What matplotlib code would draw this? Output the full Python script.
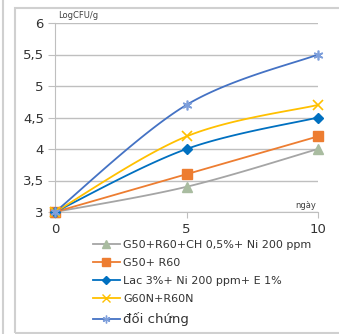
import numpy as np
import matplotlib
matplotlib.use("Agg")
import matplotlib.pyplot as plt
from matplotlib.lines import Line2D
from matplotlib.patches import Rectangle
from matplotlib.ticker import FuncFormatter

days = [0, 5, 10]
labels = ["G50+R60+CH 0,5%+ Ni 200 ppm", "G50+ R60", "Lac 3%+ Ni 200 ppm+ E 1%",
          "G60N+R60N", "đối chứng"]
g50_r60_ch = [3.0, 3.4, 4.0]
g50_r60 = [3.0, 3.6, 4.2]
lac = [3.0, 4.0, 4.5]
g60n_r60n = [3.0, 4.2, 4.7]
doi_chung = [3.0, 4.7, 5.5]
y_ticks = [3, 3.5, 4, 4.5, 5, 5.5, 6]
x_ticks = [0, 5, 10]

series = [g50_r60_ch, g50_r60, lac, g60n_r60n, doi_chung]
line_colors = ["#A5A5A5", "#ED7D31", "#0070C0", "#FFC000", "#4472C4"]
marker_colors = ["#A9BCA0", "#ED7D31", "#0070C0", "#FFC000", "#7E9FDB"]
markers = ["^", "s", "D", "x", (6, 2, 0)]
msizes = [7.5, 6.5, 5.5, 7, 7]


def smooth(xs, ys, n=40):
    # excel-like smoothed line (catmull-rom as bezier)
    p = np.column_stack([xs, ys]).astype(float)
    pts = np.vstack([p[0], p, p[-1]])
    out = []
    for i in range(1, len(pts) - 2):
        p0, p1, p2, p3 = pts[i - 1], pts[i], pts[i + 1], pts[i + 2]
        c1 = p1 + (p2 - p0) / 6
        c2 = p2 - (p3 - p1) / 6
        t = np.linspace(0, 1, n)[:, None]
        seg = (1 - t) ** 3 * p1 + 3 * (1 - t) ** 2 * t * c1 + 3 * (1 - t) * t ** 2 * c2 + t ** 3 * p2
        out.append(seg)
    out = np.vstack(out)
    return out[:, 0], out[:, 1]


W, H = 339, 334
fig = plt.figure(figsize=(W / 100, H / 100), dpi=100)

# frames around the chart
fig.add_artist(Rectangle((15 / W, 1 - 333 / H), 330 / W, 325 / H, transform=fig.transFigure,
                         fill=False, edgecolor="#D0D0D0", lw=1.5))
fig.add_artist(Line2D([3 / W, 3 / W], [0, 1], transform=fig.transFigure, color="#D0D0D0", lw=1.5))

ax = fig.add_axes([55 / W, 1 - 212 / H, (318 - 55) / W, (212 - 23) / H])
ax.set_xlim(0, 10)
ax.set_ylim(3, 6)
ax.set_yticks(y_ticks)
ax.set_xticks(x_ticks)
ax.yaxis.set_major_formatter(FuncFormatter(lambda v, p: ("%g" % v).replace(".", ",")))
ax.grid(axis="y", color="#BFBFBF", lw=1)
for s in ["top", "right"]:
    ax.spines[s].set_visible(False)
ax.spines["left"].set_color("#BFBFBF")
ax.spines["bottom"].set_color("#BFBFBF")
ax.tick_params(axis="y", length=5, color="#BFBFBF", labelsize=9.5, pad=3, labelcolor="#333333")
ax.tick_params(axis="x", length=4, color="#BFBFBF", labelsize=9.5, pad=4, labelcolor="#333333")

handles = []
for ys, lc, mc, m, ms in zip(series, line_colors, marker_colors, markers, msizes):
    sx, sy = smooth(days, ys)
    ax.plot(sx, sy, color=lc, lw=1.3, zorder=3, clip_on=False)
    ax.plot(days, ys, ls="none", marker=m, color=mc, ms=ms, mew=1.2 if m in ("x",) or isinstance(m, tuple) else 1,
            zorder=4, clip_on=False)
    handles.append(Line2D([], [], color=lc, lw=1.3, marker=m, markerfacecolor=mc, markeredgecolor=mc,
                          ms=ms * 0.8))

fig.text(58 / W, 1 - 15 / H, "LogCFU/g", fontsize=6, va="center", ha="left", color="#404040")
fig.text(316 / W, 1 - 205 / H, "ngày", fontsize=6, va="center", ha="right", color="#404040")

leg = fig.legend(handles, labels, loc="upper left", bbox_to_anchor=(93 / W, 1 - 240 / H),
                 frameon=False, fontsize=8, handlelength=2.4, handletextpad=0.3,
                 labelspacing=0.72, borderpad=0, borderaxespad=0)
for t in leg.get_texts():
    t.set_color("#333333")
leg.get_texts()[-1].set_fontsize(9.5)

fig.savefig("out.png", dpi=100)
